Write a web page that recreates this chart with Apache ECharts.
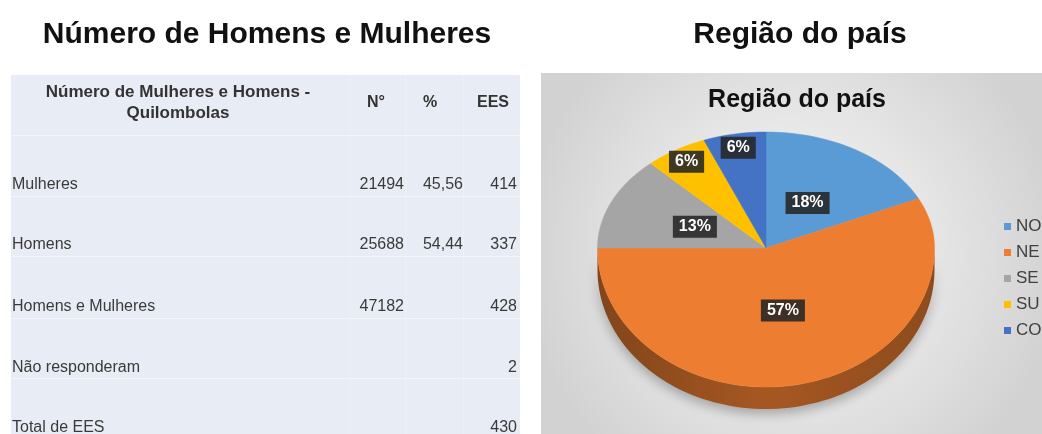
<!DOCTYPE html>
<html>
<head>
<meta charset="utf-8">
<title>Homens e Mulheres / Região do país</title>
<script src="https://cdn.jsdelivr.net/npm/echarts@6/dist/echarts.min.js"></script>
<style>
  html, body { margin: 0; padding: 0; background: #fff; }
  #chart { width: 1042px; height: 434px; }
</style>
</head>
<body>
<div id="chart"></div>
<script>
// tabela - Número de Mulheres e Homens - Quilombolas
var tableHeader = ['N°', '%', 'EES'];
var tableRows = ['Mulheres', 'Homens', 'Homens e Mulheres', 'Não responderam', 'Total de EES'];
var tableN = ['21494', '25688', '47182', '', ''];
var tablePct = ['45,56', '54,44', '', '', ''];
var tableEES = ['414', '337', '428', '2', '430'];

// pizza - Região do país (%)
var regions = ['NO', 'NE', 'SE', 'SU', 'CO'];
var regionShare = [18, 57, 13, 6, 6];
var regionColors = ['#5B9BD5', '#ED7D31', '#A5A5A5', '#FFC000', '#4472C4'];

var FONT = 'Liberation Sans, Arial, sans-serif';

// elipse do "3D"
var PIE = { cx: 766, cy: 248, rx: 168.5, ryTop: 116, ryBottom: 139, depth: 22 };

var total = regionShare.reduce(function (a, b) { return a + b; }, 0);
var cumBefore = [];
regionShare.reduce(function (acc, v, i) { cumBefore[i] = acc; return acc + v; }, 0);

function darken(hex, k) {
    var c = echarts.color.parse(hex);
    return 'rgb(' + Math.round(c[0] * k) + ',' + Math.round(c[1] * k) + ',' + Math.round(c[2] * k) + ')';
}

function ellipsePoint(deg, dy) {
    var a = deg * Math.PI / 180;
    var c = Math.cos(a);
    var ry = c >= 0 ? PIE.ryTop : PIE.ryBottom;
    return [PIE.cx + PIE.rx * Math.sin(a), PIE.cy - ry * c + (dy || 0)];
}
function arcPoints(a0, a1, dy) {
    var pts = [];
    var n = Math.max(2, Math.ceil((a1 - a0) / 2));
    for (var k = 0; k <= n; k++) {
        pts.push(ellipsePoint(a0 + (a1 - a0) * k / n, dy));
    }
    return pts;
}

function renderSlice(params, api) {
    var i = params.dataIndex;
    var v = api.value(0);
    var start = cumBefore[i] / total * 360;
    var end = start + v / total * 360;
    var color = regionColors[i];
    var children = [];

    // parede lateral (só a metade da frente aparece)
    var ws = Math.max(start, 90), we = Math.min(end, 270);
    if (we > ws) {
        var wall = arcPoints(ws, we, 0).concat(arcPoints(ws, we, PIE.depth).reverse());
        children.push({
            type: 'polygon',
            shape: { points: wall },
            style: {
                fill: {
                    type: 'linear', x: 0, y: 0, x2: 1, y2: 0,
                    colorStops: [
                        { offset: 0, color: darken(color, 0.55) },
                        { offset: 0.5, color: darken(color, 0.7) },
                        { offset: 1, color: darken(color, 0.6) }
                    ]
                },
                shadowBlur: 12,
                shadowColor: 'rgba(0,0,0,0.28)',
                shadowOffsetY: 5
            }
        });
    }

    children.push({
        type: 'polygon',
        shape: { points: [[PIE.cx, PIE.cy]].concat(arcPoints(start, end, 0)) },
        style: { fill: color, stroke: color, lineWidth: 0.5 }
    });

    var mid = (start + end) / 2;
    var f = v / total < 0.1 ? 0.88 : 0.46;
    var a = mid * Math.PI / 180;
    var c = Math.cos(a);
    var ry = c >= 0 ? PIE.ryTop : PIE.ryBottom;
    children.push({
        type: 'text',
        z2: 100,
        x: PIE.cx + f * PIE.rx * Math.sin(a),
        y: PIE.cy - f * ry * c,
        style: {
            text: Math.round(v / total * 100) + '%',
            fill: '#fff',
            font: 'bold 16px ' + FONT,
            align: 'center',
            verticalAlign: 'middle',
            backgroundColor: 'rgba(38,38,38,0.88)',
            padding: [3, 6]
        }
    });
    return { type: 'group', children: children };
}

// tabela como graphic
var tableGraphic = [
    { type: 'rect', shape: { x: 11, y: 75, width: 509, height: 359 }, style: { fill: '#E8EDF5' } },
    { type: 'rect', shape: { x: 541, y: 73, width: 501, height: 361 },
      style: { fill: { type: 'radial', x: 0.5, y: 0.5, r: 0.75,
        colorStops: [{ offset: 0, color: '#FBFBFB' }, { offset: 1, color: '#D2D2D2' }] } } }
];
var rowY = [185, 245, 307, 368, 428];
var lineYs = [135, 196, 256, 318, 378];
lineYs.forEach(function (y) {
    tableGraphic.push({ type: 'rect', shape: { x: 11, y: y, width: 509, height: 1 }, style: { fill: 'rgba(255,255,255,0.45)' } });
});
[350, 405, 463].forEach(function (x) {
    tableGraphic.push({ type: 'rect', shape: { x: x, y: 75, width: 1, height: 359 }, style: { fill: 'rgba(255,255,255,0.2)' } });
});
tableGraphic.push({
    type: 'text', x: 178, y: 103,
    style: { text: 'Número de Mulheres e Homens -\nQuilombolas', font: 'bold 17px ' + FONT, lineHeight: 21,
             fill: '#333', align: 'center', verticalAlign: 'middle' }
});
[376, 430, 493].forEach(function (x, i) {
    tableGraphic.push({ type: 'text', x: x, y: 103,
        style: { text: tableHeader[i], font: 'bold 16px ' + FONT, fill: '#333', align: 'center', verticalAlign: 'middle' } });
});
tableRows.forEach(function (name, i) {
    var y = rowY[i];
    var st = { font: '16px ' + FONT, fill: '#3a3a3a', verticalAlign: 'middle' };
    tableGraphic.push({ type: 'text', x: 12, y: y, style: Object.assign({ text: name, align: 'left' }, st) });
    tableGraphic.push({ type: 'text', x: 404, y: y, style: Object.assign({ text: tableN[i], align: 'right' }, st) });
    tableGraphic.push({ type: 'text', x: 463, y: y, style: Object.assign({ text: tablePct[i], align: 'right' }, st) });
    tableGraphic.push({ type: 'text', x: 517, y: y, style: Object.assign({ text: tableEES[i], align: 'right' }, st) });
});

var chart = echarts.init(document.getElementById('chart'));
chart.setOption({
    animation: false,
    backgroundColor: '#fff',
    title: [
        { text: 'Número de Homens e Mulheres', left: 267, top: 35, textAlign: 'center', textVerticalAlign: 'middle',
          padding: 0, textStyle: { fontFamily: FONT, fontSize: 30, fontWeight: 'bold', color: '#111' } },
        { text: 'Região do país', left: 800, top: 35, textAlign: 'center', textVerticalAlign: 'middle',
          padding: 0, textStyle: { fontFamily: FONT, fontSize: 30, fontWeight: 'bold', color: '#111' } },
        { text: 'Região do país', left: 797, top: 100, textAlign: 'center', textVerticalAlign: 'middle',
          padding: 0, textStyle: { fontFamily: FONT, fontSize: 25, fontWeight: 'bold', color: '#111' } }
    ],
    legend: {
        data: regions,
        orient: 'vertical',
        left: 999,
        top: 213,
        icon: 'rect',
        itemWidth: 7,
        itemHeight: 7,
        itemGap: 9,
        textStyle: { fontFamily: FONT, fontSize: 17, lineHeight: 17, color: '#404040' }
    },
    graphic: tableGraphic,
    series: [
        {
            type: 'custom',
            name: 'Região do país',
            coordinateSystem: 'none',
            renderItem: renderSlice,
            data: regions.map(function (n, i) { return { name: n, value: regionShare[i] }; })
        },
        {
            // só para a legenda
            type: 'pie',
            name: 'legenda',
            radius: [0, 0],
            center: [-50, -50],
            silent: true,
            label: { show: false },
            labelLine: { show: false },
            data: regions.map(function (n, i) {
                return { name: n, value: regionShare[i], itemStyle: { color: regionColors[i] } };
            })
        }
    ]
});
</script>
</body>
</html>
